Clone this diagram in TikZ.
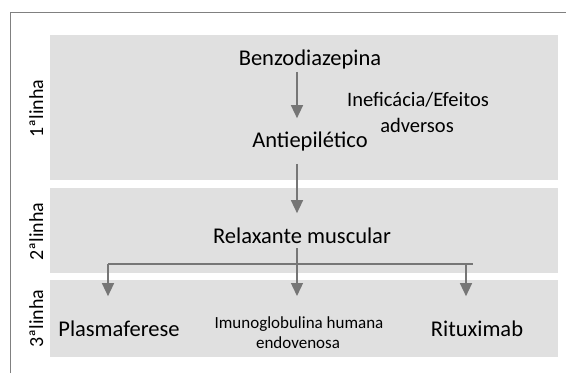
\documentclass[tikz,border=0pt]{standalone}
\usepackage{fontspec}
\setmainfont{Carlito}
\usetikzlibrary{arrows.meta,positioning}
\definecolor{bandgray}{HTML}{E0E0E0}
\definecolor{arrgray}{HTML}{767676}
\definecolor{framegray}{HTML}{808080}

\tikzset{
  band/.style = {fill=bandgray, draw=none},
  arr/.style = {draw=arrgray, line width=1.4pt, -{Triangle[width=12pt,length=13pt]}},
  bar/.style = {draw=arrgray, line width=1.4pt},
  drug/.style = {font=\fontsize{22.5}{24}\selectfont, anchor=base, inner sep=2pt},
  note/.style = {font=\fontsize{20.5}{22}\selectfont, anchor=base, inner sep=2pt},
  small/.style = {font=\fontsize{17}{19}\selectfont, anchor=base, inner sep=2pt},
  rowname/.style = {font=\fontsize{20}{22}\selectfont, anchor=base, rotate=90, inner sep=0pt}
}

\begin{document}
\begin{tikzpicture}[x = 1pt, y = -1pt]
    \useasboundingbox (0,0) rectangle (566,373);
    \fill[white] (0,0) rectangle (566,373);
    \draw[framegray, line width=1pt] (10,373) -- (10,12) -- (566,12);
    % bands
    \fill[band] (50,35) rectangle (558,180);
    \fill[band] (50,188) rectangle (558,273);
    \fill[band] (50,280) rectangle (558,357);
    % row names
    \node[rowname] (row1) at (43,108.5) {1ªlinha};
    \node[rowname] (row2) at (43,231.5) {2ªlinha};
    \node[rowname] (row3) at (43,318.5) {3ªlinha};
    % steps
    \node[drug] (benzo) at (310,65) {Benzodiazepina};
    \node[drug] (anti) at (310,147) {Antiepilético};
    \node[note] (inef) at (418,106) {Ineficácia/Efeitos};
    \node[note] (adv) at (417,132) {adversos};
    \node[drug] (relax) at (302,243) {Relaxante muscular};
    \node[drug] (plasma) at (119,336) {Plasmaferese};
    \node[small] (imuno) at (299,328) {Imunoglobulina humana};
    \node[small] (endo) at (298,348) {endovenosa};
    \node[drug] (ritux) at (477,336) {Rituximab};
    % connectors
    \coordinate (col) at (297,0);
    \coordinate (hl) at (108,264);
    \coordinate (hr) at (473,264);
    \coordinate (hrr) at (466,264);
    \draw[arr, shorten <=1pt, shorten >=11pt] (benzo.south -| col) -- (anti.north -| col);
    \draw[arr, shorten <=11pt, shorten >=12pt] (anti.south -| col) -- (relax.north -| col);
    \draw[arr, shorten <=3pt, shorten >=18pt] (relax.south -| col) -- (imuno.north -| col);
    \draw[bar] (hl) -- (hr);
    \draw[arr, shorten >=22pt] (hl) -- (plasma.north -| hl);
    \draw[arr, shorten >=22pt] (hrr) -- (ritux.north -| hrr);
\end{tikzpicture}
\end{document}
